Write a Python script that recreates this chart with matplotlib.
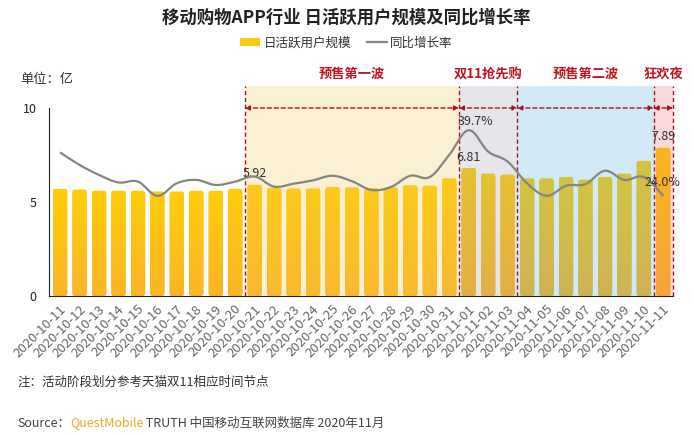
import numpy as np
import matplotlib
matplotlib.use("Agg")
import matplotlib.pyplot as plt
from matplotlib.path import Path
from matplotlib.patches import PathPatch, Rectangle, FancyBboxPatch
from matplotlib.colors import LinearSegmentedColormap
from matplotlib.lines import Line2D
import matplotlib.transforms as mtransforms

plt.rcParams['font.family'] = ['Noto Sans CJK SC', 'DejaVu Sans']

dates = ["2020-10-11", "2020-10-12", "2020-10-13", "2020-10-14", "2020-10-15", "2020-10-16",
         "2020-10-17", "2020-10-18", "2020-10-19", "2020-10-20", "2020-10-21", "2020-10-22",
         "2020-10-23", "2020-10-24", "2020-10-25", "2020-10-26", "2020-10-27", "2020-10-28",
         "2020-10-29", "2020-10-30", "2020-10-31", "2020-11-01", "2020-11-02", "2020-11-03",
         "2020-11-04", "2020-11-05", "2020-11-06", "2020-11-07", "2020-11-08", "2020-11-09",
         "2020-11-10", "2020-11-11"]
dau = [5.70, 5.66, 5.60, 5.60, 5.60, 5.56, 5.56, 5.60, 5.60, 5.70, 5.92, 5.76,
       5.72, 5.72, 5.80, 5.78, 5.74, 5.78, 5.89, 5.87, 6.26, 6.81, 6.51, 6.46,
       6.26, 6.26, 6.33, 6.19, 6.33, 6.51, 7.19, 7.89]
yoy = [34.4, 31.4, 29.0, 27.2, 27.4, 24.0, 27.0, 27.8, 26.6, 27.4, 28.6, 26.2,
       26.9, 27.7, 28.8, 27.5, 25.4, 26.1, 28.8, 28.5, 33.8, 39.7, 34.6, 32.2,
       27.0, 24.0, 26.4, 26.8, 30.0, 27.8, 28.5, 24.0]
phase_names = ["预售第一波", "双11抢先购", "预售第二波", "狂欢夜"]
phase_start = [10, 21, 24, 31]
phase_end = [20, 23, 30, 31]
phase_colors = ["#F7C452", "#9D9DAC", "#4EACE3", "#EB6E6E"]
bar_labels = {10: "5.92", 21: "6.81", 31: "7.89"}
line_labels = {21: "39.7%", 31: "24.0%"}

W, H = 693, 436
YTOP = 11.17
fig = plt.figure(figsize=(W / 100, H / 100), dpi=100)
ax = fig.add_axes([49 / W, 1 - 296 / H, (673 - 49) / W, (296 - 86) / H])
x = np.arange(len(dates))

# bars with gradient and rounded top
cmap = LinearSegmentedColormap.from_list("g", ["#FBB526", "#FFCD0A"])
grad = np.linspace(0, 1, 100).reshape(-1, 1)
bw = 0.76
for xi, v in zip(x, dau):
    p = FancyBboxPatch((xi - bw / 2, 0), bw, v,
                       boxstyle="round,pad=0,rounding_size=0.12",
                       mutation_aspect=1.6, linewidth=0, facecolor="none", zorder=2)
    ax.add_patch(p)
    im = ax.imshow(grad, cmap=cmap, origin="lower", aspect="auto",
                   extent=(xi - bw / 2, xi + bw / 2, 0, v), zorder=2)
    im.set_clip_path(p)
ax.set_xlim(-0.57, 31.5)
ax.set_ylim(0, YTOP)

# secondary axis for growth rate
ax2 = ax.twinx()
ax2.set_ylim(0, 50.3)
ax2.axis("off")

# smooth curve via cubic Bezier path
pts = np.column_stack([x, yoy]).astype(float)
verts = [tuple(pts[0])]
codes = [Path.MOVETO]
t = 0.18
for i in range(len(pts) - 1):
    p0 = pts[i - 1] if i > 0 else pts[i]
    p1 = pts[i]
    p2 = pts[i + 1]
    p3 = pts[i + 2] if i + 2 < len(pts) else pts[i + 1]
    c1 = p1 + (p2 - p0) * t
    c2 = p2 - (p3 - p1) * t
    verts += [tuple(c1), tuple(c2), tuple(p2)]
    codes += [Path.CURVE4] * 3
ax2.add_patch(PathPatch(Path(verts, codes), facecolor="none", edgecolor="#858585",
                        linewidth=1.6, zorder=3))

# phase overlays
for s, e, c in zip(phase_start, phase_end, phase_colors):
    ax.add_patch(Rectangle((s - 0.5, 0), e - s + 1, YTOP, facecolor=c, alpha=0.25,
                           linewidth=0, zorder=4))
bounds = sorted(set([s - 0.5 for s in phase_start] + [e + 0.5 for e in phase_end]))
for b in bounds:
    ax.plot([b, b], [0, YTOP], color="#9B1B24", linestyle=(0, (3, 2)), linewidth=1.0,
            zorder=5, clip_on=False)
for s, e, name in zip(phase_start, phase_end, phase_names):
    ax.annotate("", xy=(e + 0.5, 10), xytext=(s - 0.5, 10),
                arrowprops=dict(arrowstyle="<|-|>", color="#A5141E", linestyle=(0, (3, 2)),
                                linewidth=1.0, mutation_scale=7, shrinkA=0, shrinkB=0), zorder=6)
    ax.text((s + e) / 2, 11.8, name, ha="center", va="center", fontsize=9.5,
            fontweight="bold", color="#C0141E", clip_on=False)

# labels
for i, s in bar_labels.items():
    ax.text(x[i], dau[i] + 0.58, s, ha="center", va="center", fontsize=9, color="#333333", zorder=7)
ax2.text(x[21] + 0.35, yoy[21] + 2.0, line_labels[21], ha="center", va="center", fontsize=9,
         color="#333333", zorder=7)
ax2.text(x[31] - 0.05, yoy[31] + 3.1, line_labels[31], ha="center", va="center", fontsize=9,
         color="#333333", zorder=7)

# axes styling
for sp in ["top", "right"]:
    ax.spines[sp].set_visible(False)
ax.spines["left"].set_bounds(0, 10)
ax.spines["left"].set_color("#222222")
ax.spines["bottom"].set_color("#222222")
ax.set_yticks([0, 5, 10])
ax.tick_params(axis="y", length=0, labelsize=9, colors="#222222", pad=9)
ax.set_xticks(x)
ax.set_xticklabels(dates, rotation=45, ha="right", va="center", rotation_mode="anchor",
                   fontsize=9.5, color="#666666")
ax.tick_params(axis="x", length=0, pad=8)
offset = mtransforms.ScaledTranslation(4 / 100, 0, fig.dpi_scale_trans)
for lab in ax.get_xticklabels():
    lab.set_transform(lab.get_transform() + offset)

# titles and notes
fig.text(0.5, 1 - 18 / H, "移动购物APP行业 日活跃用户规模及同比增长率", ha="center", va="center",
         fontsize=12.5, fontweight="bold", color="#222222")
fig.text(20 / W, 1 - 80 / H, "单位：亿", ha="left", va="center", fontsize=9.5, color="#333333")
fig.text(17 / W, 1 - 382 / H, "注：活动阶段划分参考天猫双11相应时间节点", ha="left", va="center",
         fontsize=9, color="#333333")
t1 = fig.text(17 / W, 1 - 423 / H, "Source：", ha="left", va="center", fontsize=9, color="#444444")
fig.canvas.draw()
r = fig.canvas.get_renderer()
bb = t1.get_window_extent(r)
t2 = fig.text(bb.x1 / W, 1 - 423 / H, "QuestMobile", ha="left", va="center", fontsize=9,
              color="#F5A623")
bb2 = t2.get_window_extent(r)
fig.text(bb2.x1 / W, 1 - 423 / H, " TRUTH 中国移动互联网数据库 2020年11月", ha="left", va="center",
         fontsize=9, color="#444444")

# legend
h1 = FancyBboxPatch((0, 0), 1, 1, boxstyle="round,pad=0", facecolor="#FFC814", edgecolor="none")
h2 = Line2D([], [], color="#858585", linewidth=1.6)
fig.legend([h1, h2], ["日活跃用户规模", "同比增长率"], loc="center", ncol=2,
           bbox_to_anchor=(0.5, 1 - 43 / H), frameon=False, fontsize=9,
           handlelength=1.6, handletextpad=0.3, columnspacing=1.2, labelcolor="#333333")

fig.savefig("out.png", dpi=100)
